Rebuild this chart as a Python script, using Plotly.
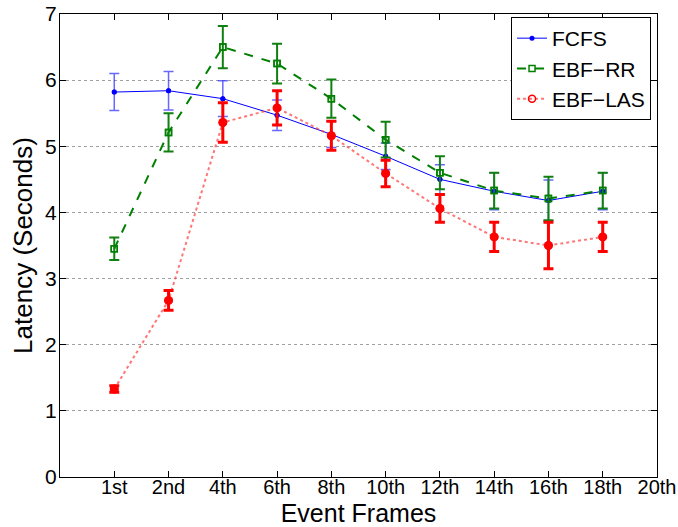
import plotly.graph_objects as go

categories = ["1st", "2nd", "4th", "6th", "8th", "10th", "12th", "14th", "16th", "18th"]
all_ticks = ["1st", "2nd", "4th", "6th", "8th", "10th", "12th", "14th", "16th", "18th", "20th"]

fcfs = [5.82, 5.84, 5.72, 5.47, 5.18, 4.85, 4.50, 4.32, 4.18, 4.32]
fcfs_err = [0.28, 0.29, 0.27, 0.23, 0.20, 0.20, 0.22, 0.28, 0.31, 0.28]

rr = [3.45, 5.21, 6.50, 6.25, 5.72, 5.10, 4.60, 4.33, 4.21, 4.33]
rr_err = [0.17, 0.29, 0.32, 0.30, 0.29, 0.27, 0.25, 0.27, 0.33, 0.27]

las = [1.33, 2.67, 5.36, 5.58, 5.16, 4.59, 4.06, 3.63, 3.50, 3.63]
las_err = [0.05, 0.15, 0.30, 0.26, 0.22, 0.20, 0.21, 0.22, 0.35, 0.22]

x = list(range(1, len(categories) + 1))
xt = list(range(1, len(all_ticks) + 1))

fig = go.Figure()

# lines (legend)
fig.add_trace(go.Scatter(x=x, y=fcfs, mode="lines+markers", name="FCFS",
                         line=dict(color="blue", width=1),
                         marker=dict(color="blue", size=5, symbol="circle")))
fig.add_trace(go.Scatter(x=x, y=rr, mode="lines+markers", name="EBF\u2212RR",
                         line=dict(color="#008000", width=2, dash="dash"),
                         marker=dict(color="#008000", size=6, symbol="square-open",
                                     line=dict(color="#008000", width=1.5))))
fig.add_trace(go.Scatter(x=x, y=las, mode="lines+markers", name="EBF\u2212LAS",
                         line=dict(color="rgba(255,60,60,0.7)", width=2, dash="dot"),
                         marker=dict(color="red", size=7, symbol="circle-open",
                                     line=dict(color="red", width=1.5))))

# error bars + plotted markers (not in legend)
fig.add_trace(go.Scatter(x=x, y=fcfs, mode="markers", showlegend=False,
                         marker=dict(color="blue", size=5, symbol="circle"),
                         error_y=dict(type="data", array=fcfs_err, color="rgba(40,40,255,0.7)",
                                      thickness=1.5, width=5)))
fig.add_trace(go.Scatter(x=x, y=rr, mode="markers", showlegend=False,
                         marker=dict(color="#008000", size=6, symbol="square-open",
                                     line=dict(color="#008000", width=1.5)),
                         error_y=dict(type="data", array=rr_err, color="#108010",
                                      thickness=2, width=5)))
fig.add_trace(go.Scatter(x=x, y=las, mode="markers", showlegend=False,
                         marker=dict(color="red", size=9, symbol="circle"),
                         error_y=dict(type="data", array=las_err, color="red",
                                      thickness=3, width=5)))

font_family = "Liberation Sans, Arial, sans-serif"
fig.update_layout(
    width=678, height=527,
    margin=dict(l=60, r=21, t=14, b=50),
    paper_bgcolor="white", plot_bgcolor="white",
    font=dict(family=font_family, color="black", size=21),
    showlegend=True,
    legend=dict(x=0.99, y=0.9935, xanchor="right", yanchor="top",
                bordercolor="black", borderwidth=1, bgcolor="white",
                font=dict(size=21), tracegroupgap=0, itemwidth=30),
    xaxis=dict(range=[0, 11], tickmode="array", tickvals=xt, ticktext=all_ticks,
               automargin=False, ticklabeloverflow="allow", ticklabelstandoff=-8,
               showgrid=False, zeroline=False, showline=True, linecolor="black",
               linewidth=1.2, mirror="ticks", ticks="inside", ticklen=6,
               tickcolor="black", tickfont=dict(size=20),
               title=dict(text="Event Frames", font=dict(size=25), standoff=16)),
    yaxis=dict(range=[0, 7], dtick=1, showgrid=True, gridcolor="#a0a0a0",
               automargin=False, ticklabelstandoff=-2,
               griddash="dot", gridwidth=1, zeroline=False, showline=True,
               linecolor="black", linewidth=1.2, mirror="ticks", ticks="inside",
               ticklen=6, tickcolor="black", tickfont=dict(size=21),
               title=dict(text="Latency (Seconds)", font=dict(size=26), standoff=4)),
)

fig.write_html("out.html")
